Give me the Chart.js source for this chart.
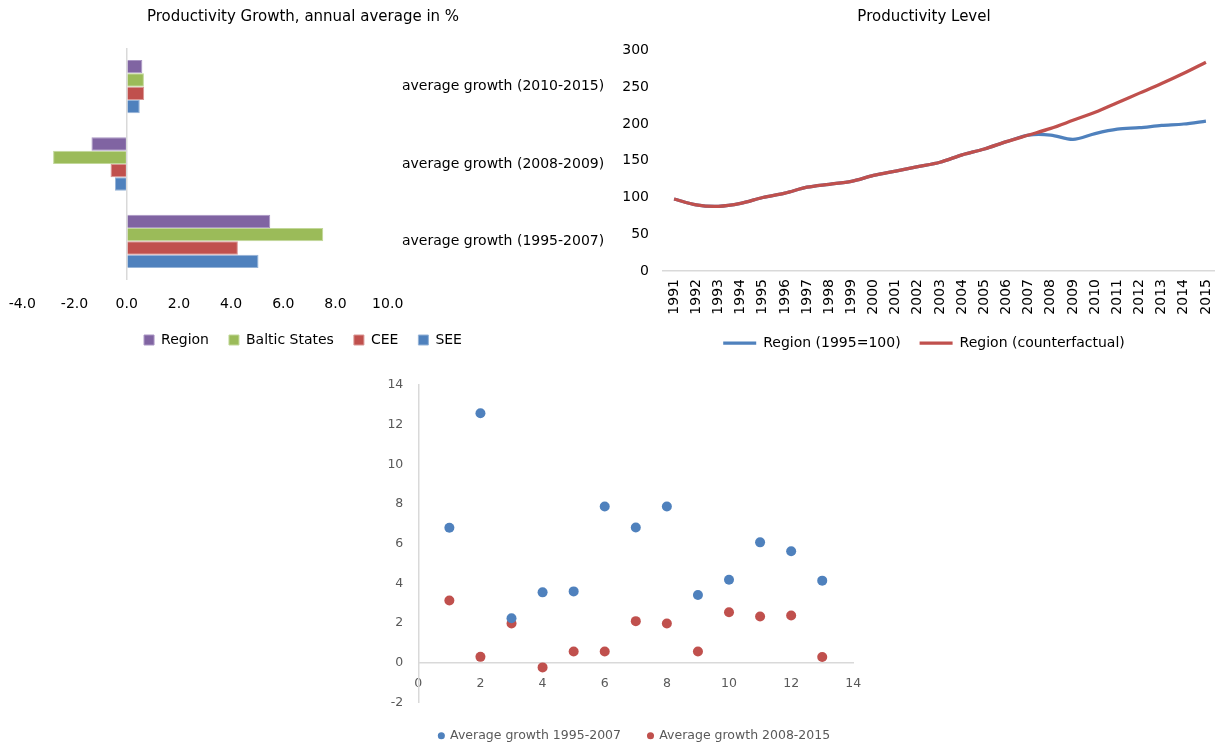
<!DOCTYPE html>
<html>
<head>
<meta charset="utf-8">
<title>Productivity</title>
<script src="https://cdn.jsdelivr.net/npm/chart.js@4/dist/chart.umd.min.js"></script>
<style>
  html, body { margin: 0; padding: 0; background: #fff; overflow: hidden; width: 1215px; height: 745px; }
  .panel { position: absolute; }
</style>
</head>
<body>
<div class="panel" style="left:0;top:0;width:606px;height:357px"><canvas id="growthChart"></canvas></div>
<div class="panel" style="left:615px;top:0;width:618px;height:360px"><canvas id="levelChart"></canvas></div>
<div class="panel" style="left:370px;top:370px;width:529px;height:382px"><canvas id="scatterChart"></canvas></div>
<script>
// ---- Productivity growth, annual average in % (horizontal bars) ----
const growthPeriods = ['average growth (2010-2015)', 'average growth (2008-2009)', 'average growth (1995-2007)'];
const growthRegion = [0.6, -1.35, 5.5];
const growthBaltic = [0.66, -2.82, 7.53];
const growthCEE = [0.67, -0.62, 4.26];
const growthSEE = [0.5, -0.45, 5.05];

// ---- Productivity level ----
const years = ['1991', '1992', '1993', '1994', '1995', '1996', '1997', '1998', '1999', '2000',
  '2001', '2002', '2003', '2004', '2005', '2006', '2007', '2008', '2009', '2010',
  '2011', '2012', '2013', '2014', '2015'];
const levelActual = [98, 90, 88, 92, 100, 106, 114, 118, 122, 130, 136, 142, 148, 158, 166, 176, 185,
  185, 179, 187, 193, 195, 198, 200, 204];
const levelCounterfactual = [98, 90, 88, 92, 100, 106, 114, 118, 122, 130, 136, 142, 148, 158, 166, 176, 185,
  194, 205, 216, 229, 242, 255, 269, 284];

// ---- Average growth by unit (scatter) ----
const unitIds = [1, 2, 3, 4, 5, 6, 7, 8, 9, 10, 11, 12, 13];
const growthEarly = [6.81, 12.58, 2.25, 3.55, 3.6, 7.88, 6.82, 7.88, 3.42, 4.19, 6.07, 5.62, 4.14];
const growthLate = [3.14, 0.3, 1.98, -0.23, 0.57, 0.57, 2.1, 1.98, 0.57, 2.55, 2.33, 2.38, 0.29];

const FONT = '"DejaVu Sans", Verdana, sans-serif';
Chart.defaults.font.family = FONT;
Chart.defaults.color = '#000';
Chart.defaults.animation = false;

// Pins an axis to a fixed size and fixed outer padding so the plot areas line up.
function pinScale(opts) {
  return function (scale) {
    if (opts.width !== undefined) scale.width = opts.width;
    if (opts.height !== undefined) scale.height = opts.height;
    scale.paddingLeft = opts.padLeft || 0;
    scale.paddingRight = opts.padRight || 0;
    scale.paddingTop = opts.padTop || 0;
    scale.paddingBottom = opts.padBottom || 0;
  };
}

const isZero = (v) => Math.abs(v) < 1e-9;
const AXIS_GREY = '#d9d9d9';

// Bars
new Chart(document.getElementById('growthChart'), {
  type: 'bar',
  data: {
    labels: growthPeriods,
    datasets: [
      { label: 'Region', data: growthRegion, backgroundColor: '#8064A2', borderColor: '#a995c3', borderWidth: 1 },
      { label: 'Baltic States', data: growthBaltic, backgroundColor: '#9BBB59', borderColor: '#c2d89a', borderWidth: 1 },
      { label: 'CEE', data: growthCEE, backgroundColor: '#C0504D', borderColor: '#d99694', borderWidth: 1 },
      { label: 'SEE', data: growthSEE, backgroundColor: '#4F81BD', borderColor: '#95b3d7', borderWidth: 1 }
    ]
  },
  options: {
    indexAxis: 'y',
    responsive: true,
    maintainAspectRatio: false,
    categoryPercentage: 0.69,
    barPercentage: 1.0,
    layout: { padding: 0 },
    plugins: {
      title: {
        display: true,
        text: 'Productivity Growth, annual average in %',
        font: { size: 15, weight: 'normal' },
        color: '#000',
        padding: { top: 8, bottom: 22 }
      },
      legend: {
        position: 'bottom',
        labels: { boxWidth: 10, boxHeight: 10, padding: 20, font: { size: 14 }, color: '#000' }
      },
      tooltip: { enabled: false }
    },
    scales: {
      x: {
        min: -4,
        max: 10,
        ticks: { stepSize: 2, padding: 16, font: { size: 14 }, color: '#000',
          callback: (v) => (isZero(v) ? 0 : Number(v)).toFixed(1) },
        grid: {
          drawTicks: false,
          lineWidth: 1.5,
          color: (ctx) => (ctx.tick && isZero(ctx.tick.value) ? AXIS_GREY : 'rgba(0,0,0,0)')
        },
        border: { display: false },
        afterFit: pinScale({ height: 33, padLeft: 22.3, padRight: 0 })
      },
      y: {
        position: 'right',
        ticks: { padding: 14.3, font: { size: 14 }, color: '#000' },
        grid: { display: false, drawTicks: false },
        border: { display: false },
        afterFit: pinScale({ width: 218.3 })
      }
    }
  }
});

// Lines
new Chart(document.getElementById('levelChart'), {
  type: 'line',
  data: {
    labels: years,
    datasets: [
      { label: 'Region (counterfactual)', data: levelCounterfactual, borderColor: '#C0504D', backgroundColor: '#C0504D',
        borderWidth: 3.25, pointRadius: 0, tension: 0.3, fill: false },
      { label: 'Region (1995=100)', data: levelActual, borderColor: '#4F81BD', backgroundColor: '#4F81BD',
        borderWidth: 3.25, pointRadius: 0, tension: 0.3, fill: false }
    ]
  },
  options: {
    responsive: true,
    maintainAspectRatio: false,
    layout: { padding: 0 },
    plugins: {
      title: {
        display: true,
        text: 'Productivity Level',
        font: { size: 15, weight: 'normal' },
        color: '#000',
        padding: { top: 8, bottom: 24.5 }
      },
      legend: {
        position: 'bottom',
        labels: {
          usePointStyle: true,
          pointStyle: 'line',
          pointStyleWidth: 33,
          padding: 19,
          font: { size: 14 },
          color: '#000',
          sort: (a, b) => b.datasetIndex - a.datasetIndex
        }
      },
      tooltip: { enabled: false }
    },
    scales: {
      x: {
        offset: true,
        ticks: { autoSkip: false, minRotation: 90, maxRotation: 90, padding: 8, font: { size: 14 }, color: '#000' },
        grid: { display: false, drawTicks: false },
        border: { display: true, color: AXIS_GREY, width: 1.5 },
        afterFit: pinScale({ height: 46, padLeft: 0, padRight: 16 })
      },
      y: {
        min: 0,
        max: 300,
        ticks: { stepSize: 50, padding: 14, font: { size: 14 }, color: '#000' },
        grid: { display: false, drawTicks: false },
        border: { display: false },
        afterFit: pinScale({ width: 48 })
      }
    }
  }
});

// Scatter
const GREY_TEXT = '#595959';
new Chart(document.getElementById('scatterChart'), {
  type: 'scatter',
  data: {
    datasets: [
      { label: 'Average growth 1995-2007', data: unitIds.map((u, i) => ({ x: u, y: growthEarly[i] })),
        backgroundColor: '#4F81BD', borderColor: '#4F81BD', pointRadius: 5, pointBorderWidth: 0 },
      { label: 'Average growth 2008-2015', data: unitIds.map((u, i) => ({ x: u, y: growthLate[i] })),
        backgroundColor: '#C0504D', borderColor: '#C0504D', pointRadius: 5, pointBorderWidth: 0 }
    ]
  },
  options: {
    responsive: true,
    maintainAspectRatio: false,
    layout: { padding: { top: 15, left: 0, right: 0, bottom: 0 } },
    plugins: {
      legend: {
        position: 'bottom',
        labels: { usePointStyle: true, pointStyle: 'circle', boxWidth: 5, boxHeight: 5, padding: 27,
          font: { size: 12.5 }, color: GREY_TEXT }
      },
      tooltip: { enabled: false }
    },
    scales: {
      x: {
        type: 'linear',
        position: { y: 0 },
        min: 0,
        max: 14,
        ticks: { stepSize: 2, padding: 13, font: { size: 12.5 }, color: GREY_TEXT },
        grid: { display: false, drawTicks: false },
        border: { display: true, color: AXIS_GREY, width: 1.5 },
        afterFit: pinScale({ padLeft: 0, padRight: 45.7 })
      },
      y: {
        type: 'linear',
        position: 'left',
        min: -2,
        max: 14,
        ticks: { stepSize: 2, padding: 15, font: { size: 12.5 }, color: GREY_TEXT },
        grid: { display: false, drawTicks: false },
        border: { display: true, color: AXIS_GREY, width: 1.5 },
        afterFit: pinScale({ width: 48.3 })
      }
    }
  }
});
</script>
</body>
</html>
